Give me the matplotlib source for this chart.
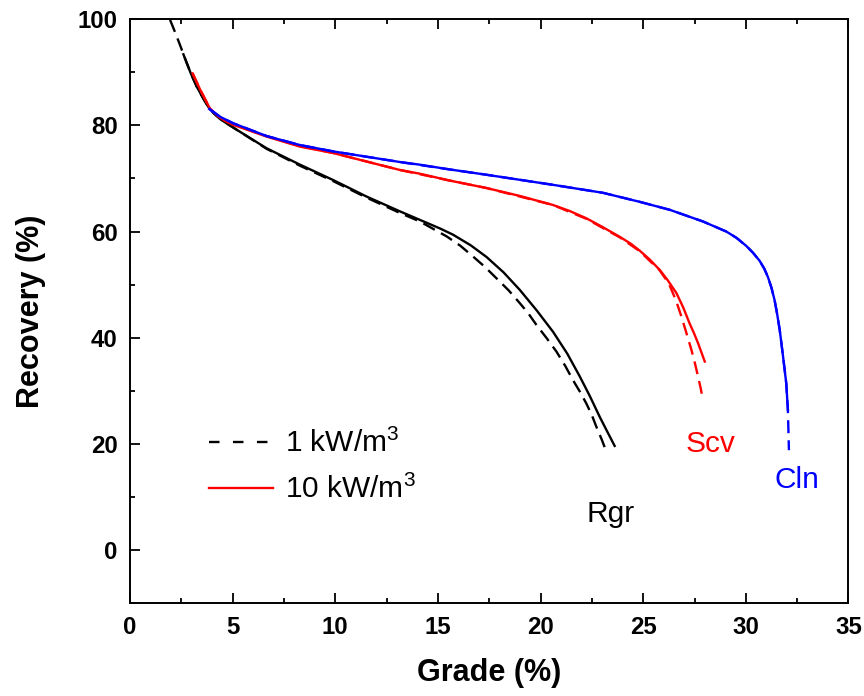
import matplotlib.pyplot as plt
from matplotlib.lines import Line2D
from matplotlib.ticker import MultipleLocator

plt.switch_backend('Agg')
plt.rcParams['font.family'] = ['Liberation Sans', 'DejaVu Sans']
plt.rcParams['mathtext.default'] = 'regular'

# Rgr (rougher) grade/recovery curves
rgr_1_x = [1.95, 2.2, 2.45, 2.7, 2.95, 3.25, 3.55, 3.81, 4.1, 4.46, 5.19, 6.65, 8.28, 9.90,
           11.52, 13.15, 14.12, 15.42, 16.1, 16.71, 17.3, 17.85, 18.45, 18.99, 19.4, 19.80,
           20.3, 20.77, 21.2, 21.58, 21.92, 22.23, 22.5, 22.72, 22.97, 23.21]
rgr_1_y = [99.9, 97.5, 95.0, 92.4, 89.9, 87.3, 85.2, 83.5, 82.2, 81.0, 79.2, 75.6, 72.4, 69.5,
           66.4, 63.5, 61.9, 59.1, 57.3, 55.3, 53.3, 51.2, 48.9, 46.5, 44.6, 42.4,
           39.9, 37.4, 34.7, 32.0, 29.8, 27.6, 25.4, 23.2, 20.9, 18.5]
rgr_10_x = [2.6, 2.95, 3.25, 3.55, 3.81, 4.1, 4.46, 5.19, 6.65, 8.28, 9.90, 11.52, 13.15,
            14.12, 15.09, 15.74, 16.6, 17.37, 18.2, 18.99, 19.8, 20.61, 21.3, 21.91, 22.4,
            22.88, 23.25, 23.61]
rgr_10_y = [93.4, 89.9, 87.3, 85.2, 83.5, 82.2, 81.0, 79.2, 75.7, 72.6, 69.7, 66.6, 63.8,
            62.2, 60.6, 59.4, 57.4, 55.2, 52.3, 49.0, 45.2, 41.1, 37.0, 32.7, 29.0,
            25.1, 22.3, 19.6]

# Scv (scavenger)
scv_1_x = [3.05, 3.41, 3.89, 4.3, 4.65, 5.03, 6.65, 8.28, 9.90, 11.52, 13.15, 15.58, 17.37,
           20.61, 22.23, 23.86, 24.83, 25.80, 26.25, 26.60, 26.86, 27.12, 27.35, 27.52,
           27.67, 27.80, 27.91]
scv_1_y = [89.8, 86.8, 83.2, 81.7, 80.8, 80.2, 78.0, 76.1, 74.8, 73.2, 71.6, 69.6, 68.2,
           65.0, 62.4, 58.9, 56.3, 52.7, 50.2, 47.0, 44.0, 40.7, 37.7, 35.2,
           32.7, 30.5, 28.3]
scv_10_x = [3.05, 3.41, 3.89, 4.3, 4.65, 5.03, 6.65, 8.28, 9.90, 11.52, 13.15, 14.12, 15.58,
            17.37, 19.0, 20.61, 21.4, 22.23, 23.0, 23.86, 24.4, 24.83, 25.3, 25.80, 26.2,
            26.62, 26.95, 27.26, 27.48, 27.67, 28.0]
scv_10_y = [89.8, 86.8, 83.2, 81.7, 80.8, 80.1, 77.9, 76.0, 74.8, 73.2, 71.6, 70.9, 69.6,
            68.2, 66.7, 65.0, 63.9, 62.5, 60.9, 59.0, 57.7, 56.4, 54.8, 52.8, 50.8,
            48.4, 45.7, 42.7, 40.8, 39.0, 35.5]

# Cln (cleaner)
cln_1_x = [3.86, 4.4, 5.03, 6.65, 8.28, 9.90, 11.52, 13.15, 15.58, 17.37, 20.61, 23.04,
           24.83, 26.29, 27.91, 29.05, 29.55, 30.02, 30.35, 30.67, 30.9, 31.08, 31.25,
           31.40, 31.52, 31.65, 31.81, 31.97, 32.05, 32.10]
cln_1_y = [83.1, 81.6, 80.4, 78.0, 76.3, 75.1, 74.1, 73.1, 71.7, 70.7, 68.8, 67.3,
           65.6, 64.1, 61.9, 60.0, 58.8, 57.3, 56.0, 54.5, 53.0, 51.4, 49.4,
           47.1, 44.6, 41.5, 36.6, 31.4, 26.4, 18.8]
cln_10_x = [3.86, 4.4, 5.03, 6.65, 8.28, 9.90, 11.52, 13.15, 14.12, 15.58, 17.37, 20.61,
            23.04, 24.83, 26.29, 27.91, 29.05, 29.55, 30.02, 30.35, 30.67, 30.9, 31.08,
            31.25, 31.40, 31.52, 31.65, 31.81, 31.97, 32.05]
cln_10_y = [83.1, 81.6, 80.4, 78.0, 76.3, 75.1, 74.1, 73.1, 72.6, 71.7, 70.7, 68.8,
            67.3, 65.6, 64.1, 61.9, 60.0, 58.8, 57.3, 56.0, 54.5, 53.0, 51.4,
            49.4, 47.1, 44.6, 41.5, 36.6, 31.4, 26.4]

curve_labels = ['Rgr', 'Scv', 'Cln']
label_x = [23.42, 28.29, 32.47]
label_y = [5.3, 18.5, 11.7]
colors = ['black', '#ff0000', '#0000ff']
legend_labels = ['1 kW/m$^3$', '10 kW/m$^3$']

fig = plt.figure(figsize=(8.64, 6.96), dpi=100)
ax = fig.add_axes([0.1505, 0.1336, 0.8315, 0.8387])

lw = 1.7
dash = (0, (5.5, 3.0))
series = [(rgr_10_x, rgr_10_y, rgr_1_x, rgr_1_y),
          (scv_10_x, scv_10_y, scv_1_x, scv_1_y),
          (cln_10_x, cln_10_y, cln_1_x, cln_1_y)]
for (sx, sy, dx, dy), c in zip(series, colors):
    ax.plot(sx, sy, color=c, lw=lw, solid_joinstyle='round')
    ax.plot(dx, dy, color=c, lw=lw, ls=dash)

for t, x, y, c in zip(curve_labels, label_x, label_y, colors):
    ax.text(x, y, t, color=c, fontsize=21.5, ha='center', va='baseline')

ax.set_xlim(0, 35)
ax.set_ylim(-10, 100)
ax.xaxis.set_major_locator(MultipleLocator(5))
ax.xaxis.set_minor_locator(MultipleLocator(2.5))
ax.yaxis.set_major_locator(MultipleLocator(20))
ax.yaxis.set_minor_locator(MultipleLocator(10))

for s in ax.spines.values():
    s.set_linewidth(1.4)
ax.tick_params(which='both', direction='in', top=True, right=False, width=1.3)
ax.tick_params(which='major', length=7)
ax.tick_params(which='minor', length=3.6)
ax.tick_params(axis='x', which='major', pad=9, labelsize=17.3)
ax.tick_params(axis='y', which='major', pad=9, labelsize=17.3)
for lab in ax.get_xticklabels() + ax.get_yticklabels():
    lab.set_fontweight('bold')

ax.set_xlabel('Grade (%)', fontsize=22, fontweight='bold', labelpad=14)
ax.set_ylabel('Recovery (%)', fontsize=22, fontweight='bold', labelpad=23)

handles = [Line2D([], [], color='black', lw=lw, ls=(0, (4.45, 5.7))),
           Line2D([], [], color='#ff0000', lw=lw)]
ax.legend(handles, legend_labels, loc='upper left', bbox_to_anchor=(0.11, 0.298),
          frameon=False, fontsize=21.5, handlelength=2.15, handletextpad=0.4,
          borderpad=0, borderaxespad=0, labelspacing=0.57)

fig.savefig('out.png', dpi=100)
